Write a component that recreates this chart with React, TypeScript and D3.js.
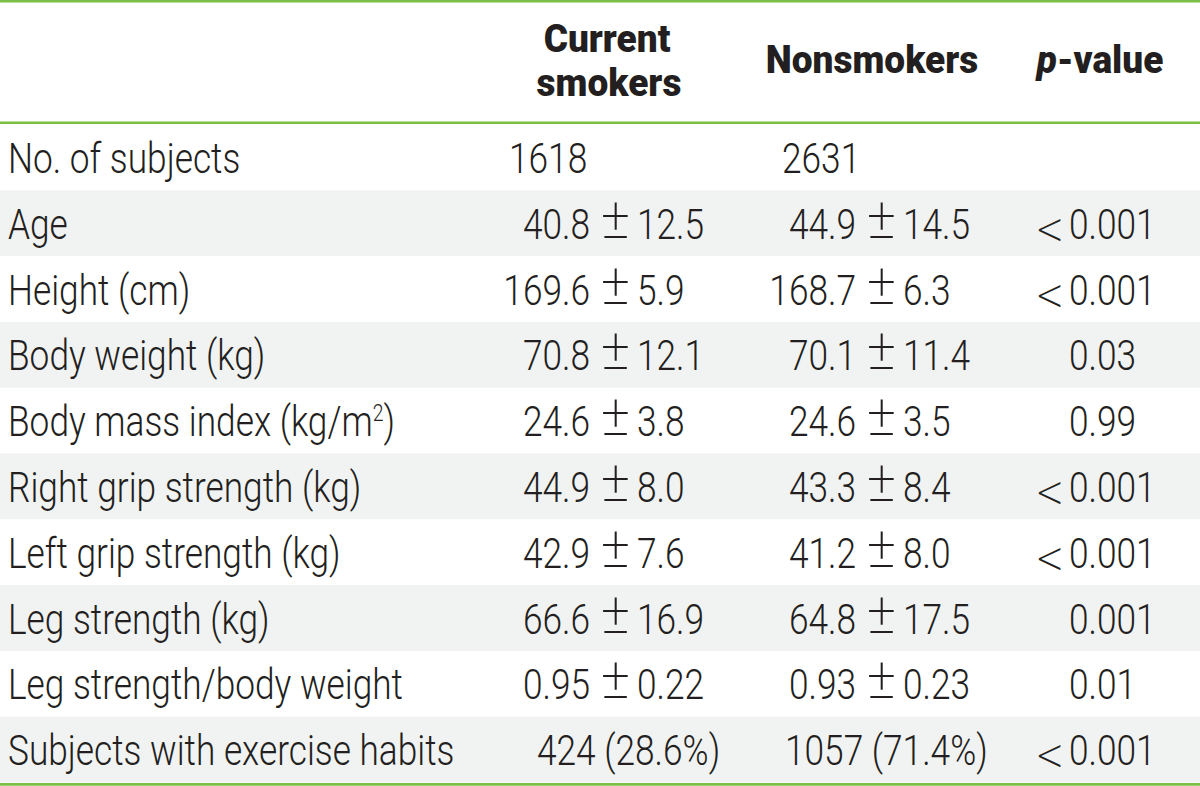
import React from "react";
import * as d3 from "d3";

// ---- data ----
const rowLabels = [
  "No. of subjects",
  "Age",
  "Height (cm)",
  "Body weight (kg)",
  "Body mass index (kg/m^2)",
  "Right grip strength (kg)",
  "Left grip strength (kg)",
  "Leg strength (kg)",
  "Leg strength/body weight",
  "Subjects with exercise habits",
];
const rowKinds = ["n", "pm", "pm", "pm", "pm", "pm", "pm", "pm", "pm", "pct"];
const headerSmokers = ["Current", "smokers"];
const headerNon = "Nonsmokers";
const headerP = ["p", "-value"];

const subjectCounts = ["1618", "2631"];
const smokersMean = ["", "40.8", "169.6", "70.8", "24.6", "44.9", "42.9", "66.6", "0.95", ""];
const smokersSD = ["", "12.5", "5.9", "12.1", "3.8", "8.0", "7.6", "16.9", "0.22", ""];
const nonMean = ["", "44.9", "168.7", "70.1", "24.6", "43.3", "41.2", "64.8", "0.93", ""];
const nonSD = ["", "14.5", "6.3", "11.4", "3.5", "8.4", "8.0", "17.5", "0.23", ""];
const exerciseCounts = ["424 (28.6%)", "1057 (71.4%)"];
const pValues = ["", "<0.001", "<0.001", "0.03", "0.99", "<0.001", "<0.001", "0.001", "0.01", "<0.001"];

// ---- layout ----
const W = 1200;
const H = 786;
const FS = 43;
const HFS = 39;
const BODY_SX = 0.82;
const HEAD_SX = 0.95;
const BODY_W = 300;
const INK = "#231f20";
const GREEN = "#7bbf45";
const STRIPE = "#f1f2f2";
const ROBOTO = "Roboto, 'Noto Sans', sans-serif";

const tableTop = 124.5;
const tableBottom = 782.5;

const y = d3
  .scaleBand<number>()
  .domain(d3.range(rowLabels.length))
  .range([tableTop, tableBottom])
  .paddingInner(0)
  .paddingOuter(0);

// column anchors
const cols = [
  { pm: 615.5, nStart: 509, pctStart: 537 },
  { pm: 881.5, nStart: 782, pctStart: 785 },
];
const pmLeftGap = 25.5;
const pmRightGap = 21.5;
const pNumStart = 1069;
const pLtEnd = 1064;
const labelX = 8;

function T({
  x,
  yy,
  anchor = "start",
  sx = BODY_SX,
  weight = BODY_W,
  size = FS,
  family = ROBOTO,
  children,
}: any) {
  return (
    <text
      transform={`translate(${x},${yy}) scale(${sx},1)`}
      textAnchor={anchor}
      fontFamily={family}
      fontSize={size}
      fontWeight={weight}
      fill={INK}
    >
      {children}
    </text>
  );
}

function Label({ text, yy }: { text: string; yy: number }) {
  const i = text.indexOf("^");
  if (i < 0) return <T x={labelX} yy={yy}>{text}</T>;
  const before = text.slice(0, i);
  const sup = text.slice(i + 1, i + 2);
  const after = text.slice(i + 2);
  return (
    <T x={labelX} yy={yy}>
      {before}
      <tspan fontSize={FS * 0.55} dy={-FS * 0.36}>
        {sup}
      </tspan>
      <tspan dy={FS * 0.36}>{after}</tspan>
    </T>
  );
}

export default function App() {
  const bandH = y.bandwidth();
  const baseOff = bandH / 2 + 15.5;
  const means = [smokersMean, nonMean];
  const sds = [smokersSD, nonSD];

  return (
    <svg
      width={W}
      height={H}
      viewBox={`0 0 ${W} ${H}`}
      style={{ position: "absolute", left: 0, top: 0, background: "#fff" }}
    >
      <rect x={0} y={0} width={W} height={H} fill="#fff" />
      {rowLabels.map((_, i) =>
        i % 2 === 1 ? (
          <rect key={"bg" + i} x={0} y={y(i)!} width={W} height={bandH} fill={STRIPE} />
        ) : null
      )}

      {/* rules */}
      <line x1={0} x2={W} y1={1.3} y2={1.3} stroke={GREEN} strokeWidth={2.6} />
      <line x1={0} x2={W} y1={122.8} y2={122.8} stroke={GREEN} strokeWidth={2.6} />
      <line x1={0} x2={W} y1={784.3} y2={784.3} stroke={GREEN} strokeWidth={2.8} />

      {/* header */}
      <T x={607} yy={52} anchor="middle" sx={HEAD_SX} weight={900} size={HFS}>
        {headerSmokers[0]}
      </T>
      <T x={609} yy={96} anchor="middle" sx={HEAD_SX} weight={900} size={HFS}>
        {headerSmokers[1]}
      </T>
      <T x={872} yy={73} anchor="middle" sx={HEAD_SX} weight={900} size={HFS}>
        {headerNon}
      </T>
      <T x={1100} yy={73} anchor="middle" sx={HEAD_SX} weight={900} size={HFS}>
        <tspan fontStyle="italic">{headerP[0]}</tspan>
        {headerP[1]}
      </T>

      {/* body */}
      {rowLabels.map((lab, i) => {
        const yy = y(i)! + baseOff;
        const kind = rowKinds[i];
        const p = pValues[i];
        return (
          <g key={"row" + i}>
            <Label text={lab} yy={yy} />
            {cols.map((c, ci) => {
              if (kind === "n")
                return (
                  <T key={ci} x={c.nStart} yy={yy}>
                    {subjectCounts[ci]}
                  </T>
                );
              if (kind === "pct")
                return (
                  <T key={ci} x={c.pctStart} yy={yy}>
                    {exerciseCounts[ci]}
                  </T>
                );
              return (
                <g key={ci}>
                  <T x={c.pm - pmLeftGap} yy={yy} anchor="end">
                    {means[ci][i]}
                  </T>
                  <T x={c.pm} yy={yy - 1} anchor="middle" size={58} sx={0.95} weight={200}>
                    ±
                  </T>
                  <T x={c.pm + pmRightGap} yy={yy}>
                    {sds[ci][i]}
                  </T>
                </g>
              );
            })}
            {p ? (
              p.startsWith("<") ? (
                <g>
                  <T
                    x={pLtEnd}
                    yy={yy + 5}
                    anchor="end"
                    size={44}
                    sx={0.78}
                    weight={200}
                    family="'DejaVu Sans', sans-serif"
                  >
                    {"<"}
                  </T>
                  <T x={pNumStart} yy={yy}>
                    {p.slice(1)}
                  </T>
                </g>
              ) : (
                <T x={pNumStart} yy={yy}>
                  {p}
                </T>
              )
            ) : null}
          </g>
        );
      })}
    </svg>
  );
}
